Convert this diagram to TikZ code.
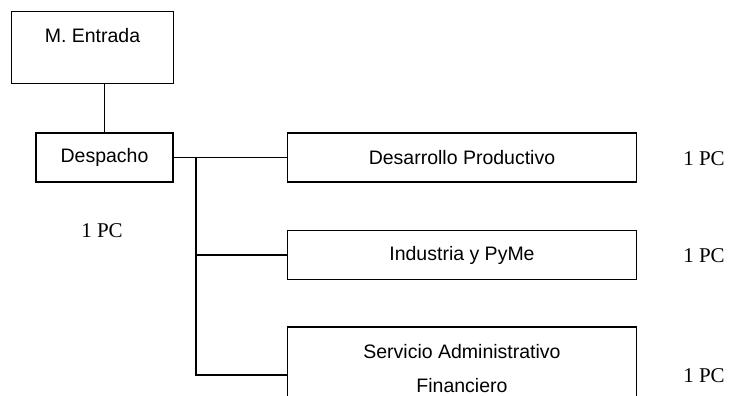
\documentclass[tikz,border=0pt]{standalone}
\usepackage{fontspec}
\setmainfont{Liberation Sans}
\newfontfamily\pcfont{Liberation Serif}
\usetikzlibrary{positioning}
\tikzset{
  caja/.style={draw, line width=1.8pt, inner sep=0pt, align=center, font=\fontsize{19.5}{34}\selectfont},
  pc/.style={inner sep=0pt, font=\pcfont\fontsize{21}{24}\selectfont},
  linea/.style={line width=1.8pt}
}
\begin{document}
\begin{tikzpicture}[x=1pt,y=-1pt]
\useasboundingbox (0,0) rectangle (732,396);

\node[caja, minimum width=162pt, minimum height=72pt, text height=14pt, text depth=23pt] (entrada) at (92.5,47.5) {M. Entrada};
\node[caja, minimum width=137pt, minimum height=49pt] (despacho) at (104.5,157.5) {Despacho};
\node[pc] (pc0) at (102,230.5) {1 PC};

  \node[caja, minimum width=349pt, minimum height=49pt] (desarrollo) at (462,157.5) {Desarrollo Productivo};
  \node[caja, minimum width=349pt, minimum height=49pt] (industria) at (462,255) {Industria y PyMe};
  \node[caja, minimum width=349pt, minimum height=96pt, text height=40pt, text depth=4.4pt] (servicio) at (462,375) {Servicio Administrativo\\Financiero};

  \node[pc] (pc1) at (704,158.5) {1 PC};
  \node[pc] (pc2) at (704,255.5) {1 PC};
  \node[pc] (pc3) at (704,375.5) {1 PC};

\coordinate (tronco) at (196,157.5);
\draw[linea] (despacho.north) -- (despacho.north |- entrada.south);
\draw[linea] (despacho.east) -- (desarrollo.west);
\draw[linea] (tronco) |- (industria.west);
\draw[linea] (tronco) |- (servicio.west);
\end{tikzpicture}
\end{document}
